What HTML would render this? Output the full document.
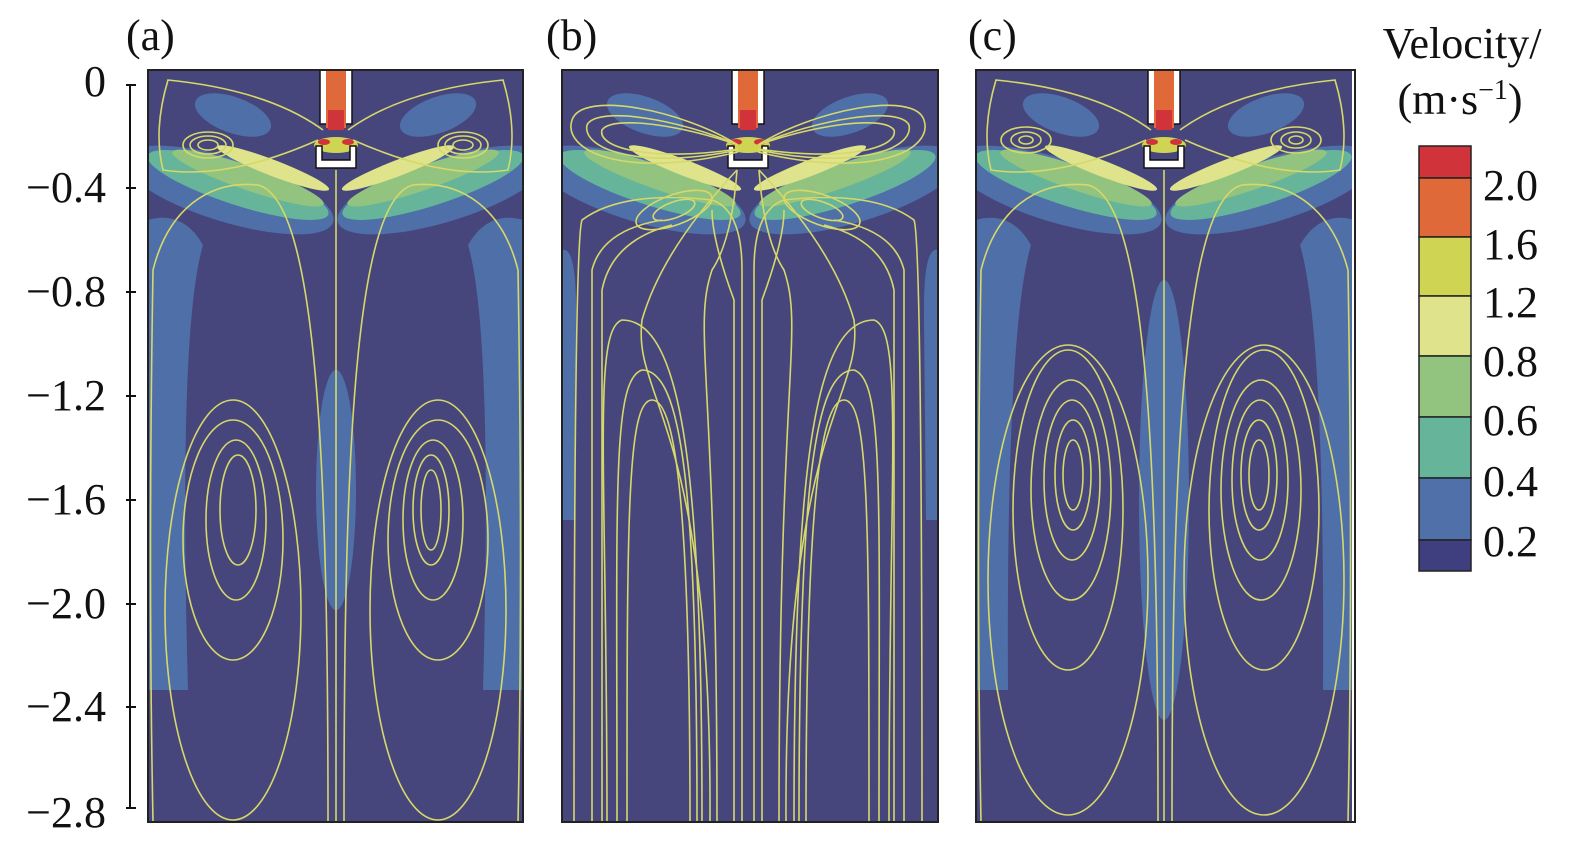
<!DOCTYPE html>
<html><head><meta charset="utf-8"><style>
html,body{margin:0;padding:0;background:#fff;}
svg{display:block}
text{font-family:"Liberation Serif",serif;fill:#111}
</style></head><body>
<svg width="1575" height="852" viewBox="0 0 1575 852" xmlns="http://www.w3.org/2000/svg">
<defs>
<clipPath id="cp"><rect x="0" y="0" width="376" height="752"/></clipPath>
<g id="top">
  <ellipse cx="85" cy="45" rx="40" ry="18" fill="#4f6fa8" transform="rotate(20 85 45)"/>
  <ellipse cx="290" cy="45" rx="40" ry="18" fill="#4f6fa8" transform="rotate(-20 290 45)"/>
  <ellipse cx="80" cy="120" rx="110" ry="32" fill="#4f6fa8" transform="rotate(17 80 120)"/>
  <ellipse cx="295" cy="120" rx="110" ry="32" fill="#4f6fa8" transform="rotate(-17 295 120)"/>
  <ellipse cx="90" cy="115" rx="95" ry="20" fill="#66b59a" transform="rotate(18 90 115)"/>
  <ellipse cx="285" cy="115" rx="95" ry="20" fill="#66b59a" transform="rotate(-18 285 115)"/>
  <ellipse cx="100" cy="108" rx="80" ry="12" fill="#93c47f" transform="rotate(19 100 108)"/>
  <ellipse cx="275" cy="108" rx="80" ry="12" fill="#93c47f" transform="rotate(-19 275 108)"/>
  <ellipse cx="125" cy="98" rx="60" ry="8" fill="#dfe38b" transform="rotate(21 125 98)"/>
  <ellipse cx="250" cy="98" rx="60" ry="8" fill="#dfe38b" transform="rotate(-21 250 98)"/>
  <ellipse cx="188" cy="75" rx="22" ry="8" fill="#cfd453"/>
  <rect x="172" y="-2" width="32" height="56" fill="#fff" stroke="#111" stroke-width="1.5"/>
  <rect x="178" y="0" width="20" height="58" fill="#e0693a"/>
  <rect x="180" y="40" width="16" height="20" fill="#d0343a"/>
  <path d="M168 76 V98 H208 V76 H202 V90 H174 V76 Z" fill="#fff" stroke="#111" stroke-width="1.5"/>
  <ellipse cx="176" cy="72" rx="6" ry="3" fill="#d0343a"/>
  <ellipse cx="200" cy="72" rx="6" ry="3" fill="#d0343a"/>
</g>
</defs>
<g fill="none">
<path d="M130 85 V808" stroke="#111" stroke-width="2"/>
<g stroke="#111" stroke-width="2">
<path d="M126 85H136M126 188H136M126 292H136M126 396H136M126 500H136M126 604H136M126 707H136M126 808H136"/>
</g>
</g>
<g font-size="44" text-anchor="end">
<text x="106" y="96">0</text>
<text x="106" y="202">−0.4</text>
<text x="106" y="306">−0.8</text>
<text x="106" y="410">−1.2</text>
<text x="106" y="514">−1.6</text>
<text x="106" y="618">−2.0</text>
<text x="106" y="721">−2.4</text>
<text x="106" y="827">−2.8</text>
</g>
<g font-size="44">
<text x="126" y="50">(a)</text>
<text x="546" y="50">(b)</text>
<text x="968" y="50">(c)</text>
</g>

<!-- Panel a -->
<g transform="translate(148,70)">
 <g clip-path="url(#cp)">
  <rect x="0" y="0" width="375" height="752" fill="#47467c"/>
  <path d="M0 150 Q35 140 55 175 Q30 260 40 620 L0 620 Z" fill="#4f6fa8"/>
  <path d="M375 150 Q340 140 320 175 Q345 260 335 620 L375 620 Z" fill="#4f6fa8"/>
  <ellipse cx="188" cy="420" rx="20" ry="120" fill="#4f6fa8"/>
  <use href="#top"/>
  <g stroke="#d6d86a" stroke-width="1.6" fill="none">
    <ellipse cx="60" cy="75" rx="25" ry="13"/><ellipse cx="60" cy="75" rx="18" ry="9"/><ellipse cx="60" cy="75" rx="10" ry="5"/>
    <ellipse cx="315" cy="75" rx="25" ry="13"/><ellipse cx="315" cy="75" rx="18" ry="9"/><ellipse cx="315" cy="75" rx="10" ry="5"/>
    <path d="M175 60 Q120 20 20 10 Q5 60 15 100 Q80 110 170 70"/>
    <path d="M200 60 Q255 20 355 10 Q370 60 360 100 Q295 110 205 70"/>
    <path d="M188 100 V752"/>
    <path d="M180 752 C180 400 170 130 110 115 C60 110 20 140 5 200"/>
    <path d="M196 752 C196 400 205 130 265 115 C315 110 355 140 370 200"/>
    <path d="M5 200 Q0 500 5 752"/><path d="M370 200 Q375 500 370 752"/>
    <ellipse cx="85" cy="540" rx="68" ry="210"/>
    <ellipse cx="85" cy="470" rx="50" ry="120"/>
    <ellipse cx="88" cy="450" rx="30" ry="80"/>
    <ellipse cx="90" cy="440" rx="18" ry="55"/>
    <ellipse cx="290" cy="540" rx="68" ry="210"/>
    <ellipse cx="290" cy="470" rx="50" ry="120"/>
    <ellipse cx="285" cy="450" rx="30" ry="80"/>
    <ellipse cx="283" cy="440" rx="18" ry="55"/>
    <ellipse cx="283" cy="440" rx="10" ry="40"/>
  </g>
 </g>
 <rect x="0" y="0" width="375" height="752" fill="none" stroke="#222" stroke-width="2"/>
</g>

<!-- Panel b -->
<g transform="translate(562,70)">
 <g clip-path="url(#cp)">
  <rect x="0" y="0" width="376" height="752" fill="#47467c"/>
  <path d="M0 180 Q15 175 14 250 L12 450 L0 450 Z" fill="#4f6fa8"/>
  <path d="M376 180 Q361 175 362 250 L364 450 L376 450 Z" fill="#4f6fa8"/>
  <use href="#top" transform="translate(-2,0)"/>
  <g stroke="#d6d86a" stroke-width="1.6" fill="none">
    <path d="M176 75 C120 40 20 20 10 50 C0 80 60 110 176 82"/>
    <path d="M176 75 C120 50 35 35 25 55 C20 80 80 100 176 80"/>
    <path d="M176 75 C120 55 50 45 40 60 C35 78 90 92 176 79"/>
    <path d="M196 75 C252 40 352 20 362 50 C372 80 312 110 196 82"/>
    <path d="M196 75 C252 50 337 35 347 55 C352 80 292 100 196 80"/>
    <path d="M196 75 C252 55 322 45 332 60 C337 78 282 92 196 79"/>
    <ellipse cx="112" cy="140" rx="40" ry="15" transform="rotate(-20 112 140)"/>
    <ellipse cx="112" cy="140" rx="22" ry="8" transform="rotate(-20 112 140)"/>
    <ellipse cx="260" cy="140" rx="40" ry="15" transform="rotate(20 260 140)"/>
    <ellipse cx="260" cy="140" rx="22" ry="8" transform="rotate(20 260 140)"/>
    <path d="M180 752 V200 Q180 140 150 130 Q60 120 20 150 Q12 170 12 752"/>
    <path d="M192 752 V200 Q192 140 222 130 Q312 120 352 150 Q360 170 360 752"/>
    <path d="M172 752 V230 Q150 170 150 140"/>
    <path d="M200 752 V230 Q222 170 222 140"/>
    <path d="M155 752 C155 300 130 260 150 200 Q170 170 175 100"/>
    <path d="M217 752 C217 300 242 260 222 200 Q202 170 197 100"/>
    <path d="M148 752 C150 350 70 330 80 250 Q100 180 175 100"/>
    <path d="M224 752 C222 350 302 330 292 250 Q272 180 197 100"/>
    <path d="M30 752 V200 Q40 160 100 150"/><path d="M342 752 V200 Q332 160 272 150"/>
    <path d="M40 752 V220 Q50 170 110 155"/><path d="M332 752 V220 Q322 170 262 155"/>
    <path d="M140 752 C140 400 120 250 60 250 C30 260 45 400 45 752"/>
    <path d="M232 752 C232 400 252 250 312 250 C342 260 327 400 327 752"/>
    <path d="M135 752 C135 420 120 300 80 300 C50 310 55 420 55 752"/>
    <path d="M237 752 C237 420 252 300 292 300 C322 310 317 420 317 752"/>
    <path d="M128 752 C128 450 115 330 90 330 C65 330 65 450 65 752"/>
    <path d="M244 752 C244 450 257 330 282 330 C307 330 307 450 307 752"/>
  </g>
 </g>
 <rect x="0" y="0" width="376" height="752" fill="none" stroke="#222" stroke-width="2"/>
</g>

<!-- Panel c -->
<g transform="translate(976,70)">
 <g clip-path="url(#cp)">
  <rect x="0" y="0" width="379" height="752" fill="#47467c"/>
  <path d="M0 150 Q35 140 55 175 Q30 260 32 620 L0 620 Z" fill="#4f6fa8"/>
  <path d="M379 150 Q344 140 324 175 Q349 260 347 620 L379 620 Z" fill="#4f6fa8"/>
  <ellipse cx="188" cy="430" rx="25" ry="220" fill="#4f6fa8"/>
  <use href="#top"/>
  <g stroke="#d6d86a" stroke-width="1.6" fill="none">
    <ellipse cx="50" cy="70" rx="25" ry="13"/><ellipse cx="50" cy="70" rx="15" ry="8"/><ellipse cx="50" cy="70" rx="7" ry="4"/>
    <ellipse cx="320" cy="70" rx="25" ry="13"/><ellipse cx="320" cy="70" rx="15" ry="8"/><ellipse cx="320" cy="70" rx="7" ry="4"/>
    <path d="M175 60 Q120 20 20 10 Q5 60 15 100 Q80 110 170 70"/>
    <path d="M204 60 Q259 20 359 10 Q374 60 364 100 Q299 110 209 70"/>
    <path d="M188 100 V752"/>
    <path d="M182 752 C182 400 172 130 112 115 C60 110 20 140 5 200"/>
    <path d="M196 752 C196 400 206 130 266 115 C316 110 356 140 372 200"/>
    <path d="M5 200 Q0 500 5 752"/><path d="M372 200 Q377 500 372 752"/>
    <ellipse cx="92" cy="510" rx="80" ry="235"/>
    <ellipse cx="92" cy="440" rx="55" ry="160"/>
    <ellipse cx="95" cy="420" rx="40" ry="110"/>
    <ellipse cx="96" cy="410" rx="28" ry="80"/>
    <ellipse cx="97" cy="405" rx="18" ry="55"/>
    <ellipse cx="97" cy="405" rx="10" ry="35"/>
    <ellipse cx="288" cy="510" rx="80" ry="235"/>
    <ellipse cx="288" cy="440" rx="55" ry="160"/>
    <ellipse cx="285" cy="420" rx="40" ry="110"/>
    <ellipse cx="284" cy="410" rx="28" ry="80"/>
    <ellipse cx="283" cy="405" rx="18" ry="55"/>
    <ellipse cx="283" cy="405" rx="10" ry="35"/>
  </g>
 </g>
 <rect x="0" y="0" width="379" height="752" fill="none" stroke="#222" stroke-width="2"/>
</g>

<!-- colorbar -->
<text x="1462" y="58" font-size="44" text-anchor="middle">Velocity/</text>
<text x="1460" y="114" font-size="44" text-anchor="middle">(m·s<tspan dy="-15" font-size="28">−1</tspan><tspan dy="15">)</tspan></text>
<g stroke="#222" stroke-width="1.5">
<rect x="1419" y="146" width="52" height="32" fill="#d0343a"/>
<rect x="1419" y="178" width="52" height="59" fill="#e0693a"/>
<rect x="1419" y="237" width="52" height="59" fill="#cfd453"/>
<rect x="1419" y="296" width="52" height="60" fill="#dfe38b"/>
<rect x="1419" y="356" width="52" height="61" fill="#93c47f"/>
<rect x="1419" y="417" width="52" height="61" fill="#66b59a"/>
<rect x="1419" y="478" width="52" height="62" fill="#4f70a8"/>
<rect x="1419" y="540" width="52" height="31" fill="#3f3f80"/>
</g>
<g font-size="44">
<text x="1483" y="200">2.0</text>
<text x="1483" y="259">1.6</text>
<text x="1483" y="317">1.2</text>
<text x="1483" y="376">0.8</text>
<text x="1483" y="435">0.6</text>
<text x="1483" y="496">0.4</text>
<text x="1483" y="556">0.2</text>
</g>
</svg>
</body></html>
